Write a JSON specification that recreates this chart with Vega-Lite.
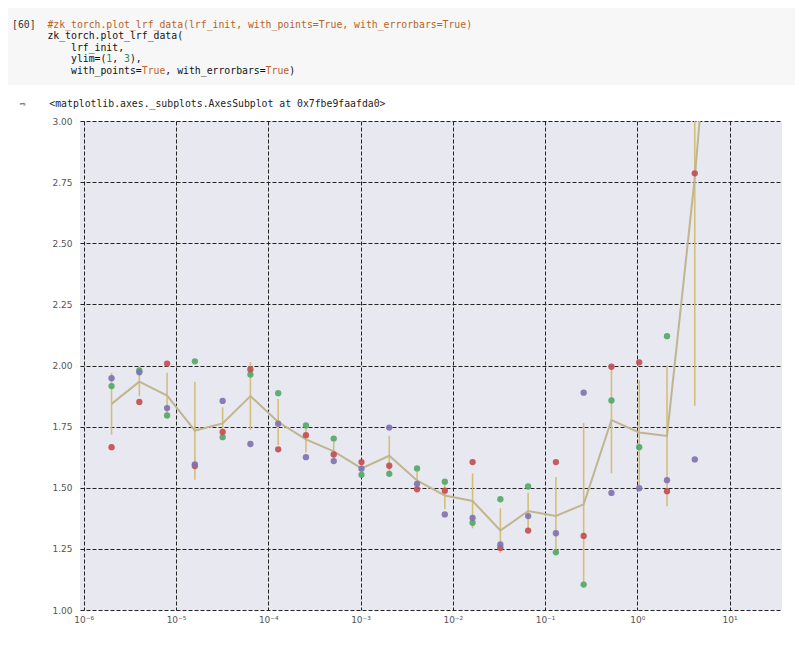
{
  "$schema": "https://vega.github.io/schema/vega-lite/v6.json",
  "background": "#FFFFFF",
  "padding": {"left": 8, "top": 8, "right": 0, "bottom": 0},
  "datasets": {
    "code": [
      {"line": 1, "kind": "prompt", "text": "[60]"},
      {"line": 1, "kind": "comment", "text": "\u200b\u00a0\u00a0\u00a0\u00a0\u00a0\u00a0#zk_torch.plot_lrf_data(lrf_init, with_points=True, with_errorbars=True)"},
      {"line": 2, "kind": "code", "text": "\u200b\u00a0\u00a0\u00a0\u00a0\u00a0\u00a0zk_torch.plot_lrf_data("},
      {"line": 3, "kind": "code", "text": "\u200b\u00a0\u00a0\u00a0\u00a0\u00a0\u00a0\u00a0\u00a0\u00a0\u00a0lrf_init,"},
      {"line": 4, "kind": "code", "text": "\u200b\u00a0\u00a0\u00a0\u00a0\u00a0\u00a0\u00a0\u00a0\u00a0\u00a0ylim=(\u00a0,\u00a0\u00a0),"},
      {"line": 4, "kind": "number", "text": "\u200b\u00a0\u00a0\u00a0\u00a0\u00a0\u00a0\u00a0\u00a0\u00a0\u00a0\u00a0\u00a0\u00a0\u00a0\u00a0\u00a01"},
      {"line": 4, "kind": "number", "text": "\u200b\u00a0\u00a0\u00a0\u00a0\u00a0\u00a0\u00a0\u00a0\u00a0\u00a0\u00a0\u00a0\u00a0\u00a0\u00a0\u00a0\u00a0\u00a0\u00a03"},
      {"line": 5, "kind": "code", "text": "\u200b\u00a0\u00a0\u00a0\u00a0\u00a0\u00a0\u00a0\u00a0\u00a0\u00a0with_points=\u00a0\u00a0\u00a0\u00a0,\u00a0with_errorbars=\u00a0\u00a0\u00a0\u00a0)"},
      {"line": 5, "kind": "keyword", "text": "\u200b\u00a0\u00a0\u00a0\u00a0\u00a0\u00a0\u00a0\u00a0\u00a0\u00a0\u00a0\u00a0\u00a0\u00a0\u00a0\u00a0\u00a0\u00a0\u00a0\u00a0\u00a0\u00a0True"},
      {"line": 5, "kind": "keyword", "text": "\u200b\u00a0\u00a0\u00a0\u00a0\u00a0\u00a0\u00a0\u00a0\u00a0\u00a0\u00a0\u00a0\u00a0\u00a0\u00a0\u00a0\u00a0\u00a0\u00a0\u00a0\u00a0\u00a0\u00a0\u00a0\u00a0\u00a0\u00a0\u00a0\u00a0\u00a0\u00a0\u00a0\u00a0\u00a0\u00a0\u00a0\u00a0\u00a0\u00a0\u00a0\u00a0\u00a0\u00a0True"}
    ],
    "points": [
      {"lr": 0.000002, "run": "run 1", "loss": 1.916},
      {"lr": 0.000004, "run": "run 1", "loss": 1.980},
      {"lr": 0.000008, "run": "run 1", "loss": 1.796},
      {"lr": 0.000016, "run": "run 1", "loss": 2.017},
      {"lr": 0.000032, "run": "run 1", "loss": 1.707},
      {"lr": 0.000064, "run": "run 1", "loss": 1.963},
      {"lr": 0.000128, "run": "run 1", "loss": 1.887},
      {"lr": 0.000256, "run": "run 1", "loss": 1.755},
      {"lr": 0.000512, "run": "run 1", "loss": 1.701},
      {"lr": 0.001024, "run": "run 1", "loss": 1.553},
      {"lr": 0.002048, "run": "run 1", "loss": 1.557},
      {"lr": 0.004096, "run": "run 1", "loss": 1.579},
      {"lr": 0.008192, "run": "run 1", "loss": 1.525},
      {"lr": 0.016384, "run": "run 1", "loss": 1.357},
      {"lr": 0.032768, "run": "run 1", "loss": 1.453},
      {"lr": 0.065536, "run": "run 1", "loss": 1.505},
      {"lr": 0.131072, "run": "run 1", "loss": 1.236},
      {"lr": 0.262144, "run": "run 1", "loss": 1.104},
      {"lr": 0.524288, "run": "run 1", "loss": 1.857},
      {"lr": 1.048576, "run": "run 1", "loss": 1.666},
      {"lr": 2.097152, "run": "run 1", "loss": 2.120},
      {"lr": 4.194304, "run": "run 1", "loss": 3.900},
      {"lr": 8.388608, "run": "run 1", "loss": 4.100},
      {"lr": 0.000002, "run": "run 2", "loss": 1.666},
      {"lr": 0.000004, "run": "run 2", "loss": 1.851},
      {"lr": 0.000008, "run": "run 2", "loss": 2.008},
      {"lr": 0.000016, "run": "run 2", "loss": 1.589},
      {"lr": 0.000032, "run": "run 2", "loss": 1.728},
      {"lr": 0.000064, "run": "run 2", "loss": 1.984},
      {"lr": 0.000128, "run": "run 2", "loss": 1.657},
      {"lr": 0.000256, "run": "run 2", "loss": 1.715},
      {"lr": 0.000512, "run": "run 2", "loss": 1.636},
      {"lr": 0.001024, "run": "run 2", "loss": 1.605},
      {"lr": 0.002048, "run": "run 2", "loss": 1.590},
      {"lr": 0.004096, "run": "run 2", "loss": 1.494},
      {"lr": 0.008192, "run": "run 2", "loss": 1.488},
      {"lr": 0.016384, "run": "run 2", "loss": 1.605},
      {"lr": 0.032768, "run": "run 2", "loss": 1.254},
      {"lr": 0.065536, "run": "run 2", "loss": 1.325},
      {"lr": 0.131072, "run": "run 2", "loss": 1.605},
      {"lr": 0.262144, "run": "run 2", "loss": 1.303},
      {"lr": 0.524288, "run": "run 2", "loss": 1.995},
      {"lr": 1.048576, "run": "run 2", "loss": 2.013},
      {"lr": 2.097152, "run": "run 2", "loss": 1.486},
      {"lr": 4.194304, "run": "run 2", "loss": 2.786},
      {"lr": 8.388608, "run": "run 2", "loss": 3.900},
      {"lr": 0.000002, "run": "run 3", "loss": 1.948},
      {"lr": 0.000004, "run": "run 3", "loss": 1.972},
      {"lr": 0.000008, "run": "run 3", "loss": 1.826},
      {"lr": 0.000016, "run": "run 3", "loss": 1.595},
      {"lr": 0.000032, "run": "run 3", "loss": 1.855},
      {"lr": 0.000064, "run": "run 3", "loss": 1.679},
      {"lr": 0.000128, "run": "run 3", "loss": 1.762},
      {"lr": 0.000256, "run": "run 3", "loss": 1.625},
      {"lr": 0.000512, "run": "run 3", "loss": 1.609},
      {"lr": 0.001024, "run": "run 3", "loss": 1.578},
      {"lr": 0.002048, "run": "run 3", "loss": 1.746},
      {"lr": 0.004096, "run": "run 3", "loss": 1.516},
      {"lr": 0.008192, "run": "run 3", "loss": 1.391},
      {"lr": 0.016384, "run": "run 3", "loss": 1.377},
      {"lr": 0.032768, "run": "run 3", "loss": 1.268},
      {"lr": 0.065536, "run": "run 3", "loss": 1.384},
      {"lr": 0.131072, "run": "run 3", "loss": 1.314},
      {"lr": 0.262144, "run": "run 3", "loss": 1.889},
      {"lr": 0.524288, "run": "run 3", "loss": 1.479},
      {"lr": 1.048576, "run": "run 3", "loss": 1.498},
      {"lr": 2.097152, "run": "run 3", "loss": 1.531},
      {"lr": 4.194304, "run": "run 3", "loss": 1.616},
      {"lr": 8.388608, "run": "run 3", "loss": 4.350}
    ],
    "summary": [
      {"lr": 0.000002, "mean": 1.843, "lo": 1.717, "hi": 1.969},
      {"lr": 0.000004, "mean": 1.934, "lo": 1.875, "hi": 1.993},
      {"lr": 0.000008, "mean": 1.877, "lo": 1.783, "hi": 1.970},
      {"lr": 0.000016, "mean": 1.734, "lo": 1.533, "hi": 1.934},
      {"lr": 0.000032, "mean": 1.763, "lo": 1.698, "hi": 1.829},
      {"lr": 0.000064, "mean": 1.875, "lo": 1.736, "hi": 2.014},
      {"lr": 0.000128, "mean": 1.769, "lo": 1.675, "hi": 1.863},
      {"lr": 0.000256, "mean": 1.698, "lo": 1.644, "hi": 1.753},
      {"lr": 0.000512, "mean": 1.649, "lo": 1.610, "hi": 1.687},
      {"lr": 0.001024, "mean": 1.579, "lo": 1.557, "hi": 1.600},
      {"lr": 0.002048, "mean": 1.631, "lo": 1.549, "hi": 1.713},
      {"lr": 0.004096, "mean": 1.530, "lo": 1.494, "hi": 1.566},
      {"lr": 0.008192, "mean": 1.468, "lo": 1.412, "hi": 1.525},
      {"lr": 0.016384, "mean": 1.446, "lo": 1.334, "hi": 1.559},
      {"lr": 0.032768, "mean": 1.325, "lo": 1.234, "hi": 1.416},
      {"lr": 0.065536, "mean": 1.405, "lo": 1.330, "hi": 1.480},
      {"lr": 0.131072, "mean": 1.385, "lo": 1.226, "hi": 1.544},
      {"lr": 0.262144, "mean": 1.432, "lo": 1.099, "hi": 1.765},
      {"lr": 0.524288, "mean": 1.777, "lo": 1.559, "hi": 1.995},
      {"lr": 1.048576, "mean": 1.726, "lo": 1.511, "hi": 1.940},
      {"lr": 2.097152, "mean": 1.712, "lo": 1.424, "hi": 2.001},
      {"lr": 4.194304, "mean": 2.767, "lo": 1.835, "hi": 3.700},
      {"lr": 8.388608, "mean": 4.117, "lo": 3.933, "hi": 4.301}
    ]
  },
  "vconcat": [
    {
      "width": 787,
      "height": 77,
      "view": {"fill": "#F7F7F7", "stroke": null},
      "data": {"name": "code"},
      "mark": {"type": "text", "align": "left", "baseline": "middle", "font": "DejaVu Sans Mono", "fontSize": 9.8, "dx": 4},
      "encoding": {
        "x": {"datum": 0, "type": "quantitative", "scale": {"domain": [0, 1]}, "axis": null},
        "y": {"field": "line", "type": "quantitative", "scale": {"domain": [-0.45, 6.25], "reverse": true, "nice": false, "zero": false}, "axis": null},
        "text": {"field": "text"},
        "color": {"field": "kind", "type": "nominal", "scale": {"domain": ["prompt", "code", "comment", "keyword", "number"], "range": ["#333333", "#111111", "#B5652A", "#C0622A", "#2E8B57"]}, "legend": null}
      }
    },
    {
      "hconcat": [
        {
          "width": 1,
          "height": 489,
          "view": {"fill": null, "stroke": null},
          "data": {"values": []},
          "mark": {"type": "point", "opacity": 0}
        },
        {
          "width": 702,
          "height": 489,
          "title": {"text": "\u200b\u00a0\u00a0\u21e8\u00a0\u00a0\u00a0\u00a0<matplotlib.axes._subplots.AxesSubplot at 0x7fbe9faafda0>", "anchor": "start", "frame": "group", "dx": -72, "offset": 8, "font": "DejaVu Sans Mono", "fontSize": 9.8, "fontWeight": "normal", "color": "#222222"},
          "encoding": {
            "x": {"field": "lr", "type": "quantitative", "scale": {"type": "log", "domain": [9.1e-7, 37.0], "nice": false}, "axis": {"values": [0.000001, 0.00001, 0.0001, 0.001, 0.01, 0.1, 1, 10], "labelExpr": "['10\u207b\u2076','10\u207b\u2075','10\u207b\u2074','10\u207b\u00b3','10\u207b\u00b2','10\u207b\u00b9','10\u2070','10\u00b9'][round(log(datum.value)/LN10)+6]", "title": null, "labelPadding": 5}}
          },
          "layer": [
            {
              "data": {"name": "summary"},
              "mark": {"type": "rule", "color": "#D4BF7A", "strokeWidth": 1.6, "clip": true},
              "encoding": {
                "y": {"field": "lo", "type": "quantitative", "scale": {"domain": [1, 3], "nice": false, "zero": false}, "axis": {"values": [1, 1.25, 1.5, 1.75, 2, 2.25, 2.5, 2.75, 3], "format": ".2f", "title": null, "labelPadding": 8}},
                "y2": {"field": "hi"}
              }
            },
            {
              "data": {"name": "summary"},
              "mark": {"type": "line", "color": "#BFB58E", "strokeWidth": 2, "clip": true},
              "encoding": {
                "y": {"field": "mean", "type": "quantitative", "scale": {"domain": [1, 3], "nice": false, "zero": false}, "axis": {"values": [1, 1.25, 1.5, 1.75, 2, 2.25, 2.5, 2.75, 3], "format": ".2f", "title": null, "labelPadding": 8}}
              }
            },
            {
              "data": {"name": "points"},
              "mark": {"type": "circle", "size": 40, "opacity": 0.92, "clip": true},
              "encoding": {
                "y": {"field": "loss", "type": "quantitative", "scale": {"domain": [1, 3], "nice": false, "zero": false}, "axis": {"values": [1, 1.25, 1.5, 1.75, 2, 2.25, 2.5, 2.75, 3], "format": ".2f", "title": null, "labelPadding": 8}},
                "color": {"field": "run", "type": "nominal", "scale": {"domain": ["run 1", "run 2", "run 3"], "range": ["#55A868", "#C44E52", "#8172B2"]}, "legend": null}
              }
            }
          ]
        }
      ],
      "spacing": -1
    }
  ],
  "spacing": 14,
  "resolve": {"scale": {"color": "independent"}},
  "config": {
    "view": {"fill": "#E8E8F0", "stroke": null},
    "axis": {"domain": false, "ticks": false, "grid": true, "gridColor": "#222222", "gridDash": [4, 2], "gridWidth": 1, "labelFont": "DejaVu Sans", "labelFontSize": 9, "labelColor": "#555555", "labelFlush": false}
  }
}
